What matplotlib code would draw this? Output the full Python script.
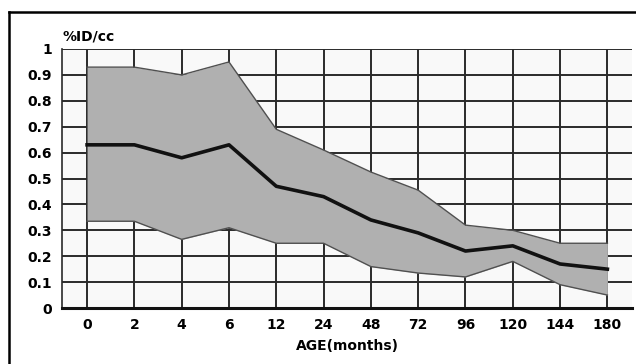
import matplotlib
matplotlib.use("Agg")
import matplotlib.pyplot as plt
from matplotlib.lines import Line2D
import numpy as np

# Age groups (months) and %ID/cc values.
ages = ["0", "2", "4", "6", "12", "24", "48", "72", "96", "120", "144", "180"]
mean_vals = [0.63, 0.63, 0.58, 0.63, 0.47, 0.43, 0.34, 0.29, 0.22, 0.24, 0.17, 0.15]
upper_vals = [0.93, 0.93, 0.90, 0.95, 0.69, 0.61, 0.525, 0.455, 0.32, 0.30, 0.25, 0.25]
lower_vals = [0.335, 0.335, 0.265, 0.31, 0.25, 0.25, 0.16, 0.135, 0.12, 0.18, 0.09, 0.05]
y_ticks = [0, 0.1, 0.2, 0.3, 0.4, 0.5, 0.6, 0.7, 0.8, 0.9, 1]
y_tick_labels = ["0", "0.1", "0.2", "0.3", "0.4", "0.5", "0.6", "0.7", "0.8", "0.9", "1"]

plt.rcParams['font.family'] = ['DejaVu Sans']
plt.rcParams['font.weight'] = 'bold'

fig = plt.figure(figsize=(6.36, 3.64), dpi=100)
ax = fig.add_axes([0.0975, 0.1538, 0.8962, 0.7116])

x = np.arange(len(ages))

# Grid under the band.
for yv in y_ticks[1:]:
    ax.axhline(yv, color='#2a2a2a', lw=1.4, zorder=1)
for xv in x:
    ax.axvline(xv, color='#2a2a2a', lw=1.4, zorder=1)

ax.fill_between(x, lower_vals, upper_vals, color='#b0b0b0', zorder=2, lw=0)
ax.plot(x, upper_vals, color='#505050', lw=1.0, zorder=3)
ax.plot(x, lower_vals, color='#505050', lw=1.0, zorder=3)
ax.plot(x, mean_vals, color='#111111', lw=2.6, zorder=4)

ax.set_xlim(-0.53, 11.52)
ax.set_ylim(0, 1)
ax.set_xticks(x)
ax.set_xticklabels(ages)
ax.set_yticks(y_ticks)
ax.set_yticklabels(y_tick_labels)
ax.tick_params(length=0, labelsize=10, pad=7)
ax.tick_params(axis='y', pad=7)
ax.set_facecolor('#f9f9f9')

for side in ['top', 'right']:
    ax.spines[side].set_visible(False)
ax.spines['left'].set_color('#2a2a2a')
ax.spines['left'].set_linewidth(1.2)
ax.spines['bottom'].set_color('#111111')
ax.spines['bottom'].set_linewidth(2.2)

ax.set_xlabel("AGE(months)", fontsize=10, fontweight='bold', labelpad=5)
fig.text(0.0975, 0.88, "%ID/cc", fontsize=10, fontweight='bold', ha='left', va='bottom')

# Outer frame lines of the scanned figure.
fig.add_artist(Line2D([0.0142, 0.0142], [0.0, 0.967], color='black', lw=1.8))
fig.add_artist(Line2D([0.0142, 1.0], [0.967, 0.967], color='black', lw=1.8))

fig.savefig("out.png", dpi=100)
